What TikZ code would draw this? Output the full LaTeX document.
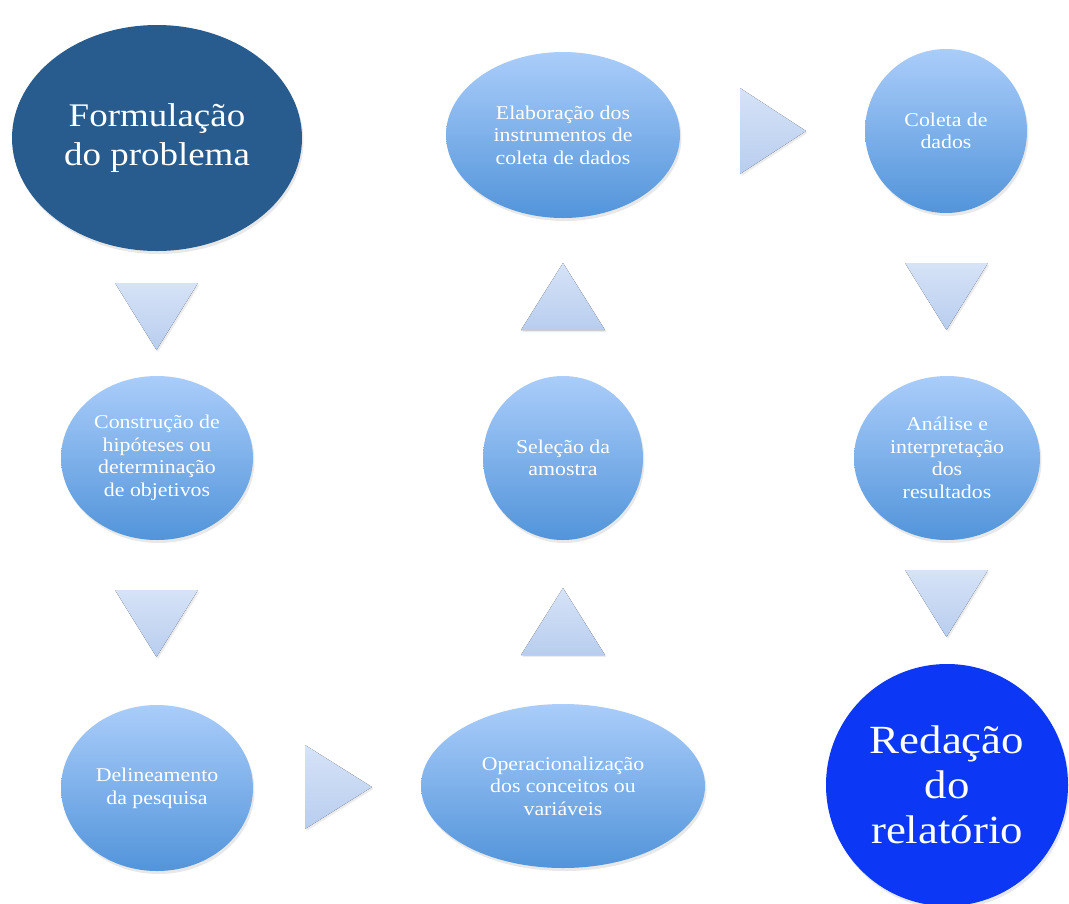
\documentclass[tikz,border=0pt]{standalone}
\usepackage{fontspec}
\setmainfont[FakeStretch=1.12]{Liberation Serif}
\usetikzlibrary{shapes.geometric,shadows}
\definecolor{darkb}{HTML}{285B8E}
\definecolor{brightb}{HTML}{0B37F5}
\definecolor{eltop}{HTML}{AACDFA}
\definecolor{elbot}{HTML}{5294DA}
\definecolor{trtop}{HTML}{D6E3F7}
\definecolor{trbot}{HTML}{B8CDEE}
\tikzset{
  ell/.style={ellipse, inner sep=0pt, text=white, align=center,
    drop shadow={opacity=0.18, shadow xshift=1.5pt, shadow yshift=-3pt}},
  lightell/.style={ell, top color=eltop, bottom color=elbot,
    font=\fontsize{19.5}{22.6}\selectfont},
  tri/.style={top color=trtop, bottom color=trbot,
    drop shadow={opacity=0.15, shadow xshift=1.5pt, shadow yshift=-2pt}},
}
\begin{document}
\begin{tikzpicture}[x=1pt,y=-1pt]
\useasboundingbox (0,0) rectangle (1069,903);
% nodes
\node[ell, fill=darkb, minimum width=290, minimum height=226,
  font=\fontsize{33}{39}\selectfont] (form) at (157,138) {Formulação\\do problema};
\node[lightell, minimum width=192, minimum height=164] (cons) at (157,458)
  {Construção de\\hipóteses ou\\determinação\\de objetivos};
\node[lightell, minimum width=192, minimum height=166] (deli) at (157,788)
  {Delineamento\\da pesquisa};
\node[lightell, minimum width=284, minimum height=164] (oper) at (563,786)
  {Operacionalização\\dos conceitos ou\\variáveis};
\node[lightell, minimum width=160, minimum height=164] (sele) at (563,458)
  {Seleção da\\amostra};
\node[lightell, minimum width=234, minimum height=166] (elab) at (563,135)
  {Elaboração dos\\instrumentos de\\coleta de dados};
\node[lightell, minimum width=162, minimum height=164] (cole) at (946,131)
  {Coleta de\\dados};
\node[lightell, minimum width=186, minimum height=164] (anal) at (947,458)
  {Análise e\\interpretação\\dos\\resultados};
\node[ell, fill=brightb, minimum width=242, minimum height=242,
  font=\fontsize{40}{45}\selectfont] (reda) at (947,785) {Redação\\do\\relatório};
% arrow triangles
\fill[tri] (115,283) -- (198,283) -- (156.5,350) -- cycle;
\fill[tri] (115,590) -- (198,590) -- (156.5,657) -- cycle;
\fill[tri] (305,745) -- (372,787) -- (305,829) -- cycle;
\fill[tri] (521,655) -- (605,655) -- (563,588) -- cycle;
\fill[tri] (521,330) -- (605,330) -- (563,263) -- cycle;
\fill[tri] (740,88) -- (806,131) -- (740,174) -- cycle;
\fill[tri] (905,263) -- (988,263) -- (946.5,330) -- cycle;
\fill[tri] (905,570) -- (988,570) -- (946.5,637) -- cycle;
\end{tikzpicture}
\end{document}
